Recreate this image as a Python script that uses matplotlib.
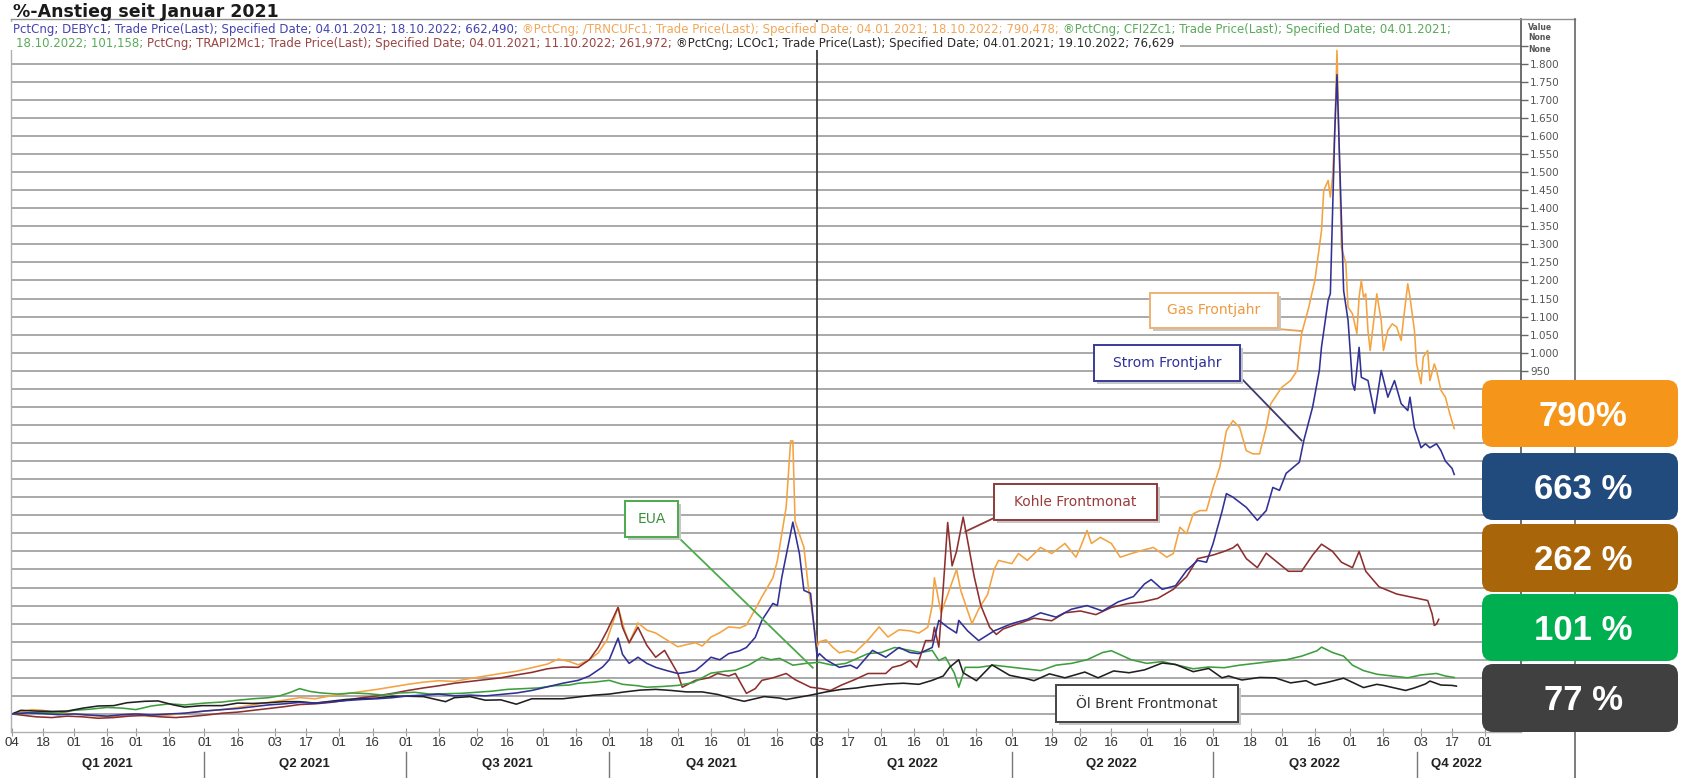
import matplotlib
matplotlib.use("Agg")
import matplotlib.pyplot as plt
import matplotlib.dates as mdates
import matplotlib.font_manager as fm
from matplotlib.patches import Rectangle, FancyBboxPatch
from matplotlib.lines import Line2D
from matplotlib.transforms import IdentityTransform, blended_transform_factory
import pandas as pd

# ---------------------------------------------------------------- data
GAS = [("2021-01-04", 0), ("2021-01-08", 6), ("2021-01-13", 12), ("2021-01-18", 10), ("2021-01-25", 3),
       ("2021-02-01", 0), ("2021-02-08", -4), ("2021-02-16", -8), ("2021-02-22", -6), ("2021-03-01", -3),
       ("2021-03-08", -7), ("2021-03-16", -3), ("2021-03-23", 2), ("2021-04-01", 8), ("2021-04-09", 12),
       ("2021-04-16", 18), ("2021-04-23", 25), ("2021-04-30", 32), ("2021-05-07", 38), ("2021-05-14", 45),
       ("2021-05-21", 42), ("2021-05-28", 50), ("2021-06-04", 56), ("2021-06-11", 62), ("2021-06-18", 68),
       ("2021-06-25", 75), ("2021-07-02", 82), ("2021-07-09", 88), ("2021-07-16", 92), ("2021-07-23", 90),
       ("2021-07-30", 98), ("2021-08-06", 105), ("2021-08-13", 112), ("2021-08-20", 118), ("2021-08-27", 128),
       ("2021-09-03", 138), ("2021-09-08", 152), ("2021-09-13", 145), ("2021-09-17", 136), ("2021-09-22", 150),
       ("2021-09-26", 169), ("2021-09-30", 205), ("2021-10-05", 296), ("2021-10-08", 230), ("2021-10-10", 197),
       ("2021-10-14", 252), ("2021-10-18", 232), ("2021-10-22", 224), ("2021-10-27", 205), ("2021-11-01", 186),
       ("2021-11-05", 192), ("2021-11-09", 197), ("2021-11-12", 188), ("2021-11-16", 213), ("2021-11-20", 225),
       ("2021-11-24", 241), ("2021-11-29", 238), ("2021-12-02", 246), ("2021-12-06", 290), ("2021-12-09", 324),
       ("2021-12-14", 377), ("2021-12-16", 424), ("2021-12-20", 573), ("2021-12-22", 756), ("2021-12-23", 756),
       ("2021-12-24", 534), ("2021-12-27", 479), ("2021-12-28", 462), ("2021-12-30", 351), ("2022-01-03", 186),
       ("2022-01-04", 200), ("2022-01-07", 205), ("2022-01-10", 185), ("2022-01-13", 169), ("2022-01-17", 175),
       ("2022-01-20", 169), ("2022-01-26", 205), ("2022-01-31", 241), ("2022-02-04", 213), ("2022-02-09", 233),
       ("2022-02-14", 230), ("2022-02-18", 224), ("2022-02-22", 240), ("2022-02-24", 300), ("2022-02-25", 377),
       ("2022-02-28", 280), ("2022-03-03", 330), ("2022-03-07", 400), ("2022-03-09", 340), ("2022-03-14", 250),
       ("2022-03-17", 290), ("2022-03-21", 330), ("2022-03-24", 400), ("2022-03-26", 425), ("2022-04-01", 416),
       ("2022-04-04", 444), ("2022-04-08", 425), ("2022-04-14", 461), ("2022-04-19", 444), ("2022-04-25", 472),
       ("2022-04-30", 434), ("2022-05-02", 461), ("2022-05-05", 508), ("2022-05-07", 472), ("2022-05-11", 489),
       ("2022-05-16", 472), ("2022-05-20", 434), ("2022-05-25", 444), ("2022-05-30", 453), ("2022-06-04", 461),
       ("2022-06-10", 434), ("2022-06-13", 444), ("2022-06-16", 517), ("2022-06-19", 499), ("2022-06-22", 554),
       ("2022-06-25", 563), ("2022-06-28", 563), ("2022-07-01", 627), ("2022-07-04", 683), ("2022-07-07", 784),
       ("2022-07-10", 812), ("2022-07-13", 793), ("2022-07-16", 729), ("2022-07-19", 720), ("2022-07-22", 720),
       ("2022-07-25", 793), ("2022-07-27", 858), ("2022-08-01", 904), ("2022-08-05", 923), ("2022-08-08", 951),
       ("2022-08-10", 1053), ("2022-08-13", 1120), ("2022-08-16", 1200), ("2022-08-19", 1338), ("2022-08-20", 1449),
       ("2022-08-22", 1477), ("2022-08-23", 1431), ("2022-08-24", 1486), ("2022-08-25", 1615), ("2022-08-26", 1837),
       ("2022-08-28", 1292), ("2022-08-30", 1247), ("2022-08-31", 1126), ("2022-09-02", 1108), ("2022-09-04", 1053),
       ("2022-09-05", 1154), ("2022-09-06", 1200), ("2022-09-07", 1154), ("2022-09-08", 1163), ("2022-09-09", 1062),
       ("2022-09-10", 1006), ("2022-09-12", 1108), ("2022-09-13", 1163), ("2022-09-15", 1089), ("2022-09-16", 1006),
       ("2022-09-18", 1062), ("2022-09-20", 1080), ("2022-09-22", 1071), ("2022-09-24", 1034), ("2022-09-25", 1089),
       ("2022-09-27", 1191), ("2022-09-28", 1154), ("2022-09-30", 1062), ("2022-10-01", 969), ("2022-10-03", 914),
       ("2022-10-04", 988), ("2022-10-06", 1006), ("2022-10-07", 923), ("2022-10-09", 969), ("2022-10-10", 951),
       ("2022-10-12", 896), ("2022-10-14", 877), ("2022-10-16", 831), ("2022-10-18", 790)]

STROM = [("2021-01-04", 0), ("2021-01-11", 3), ("2021-01-18", 1), ("2021-01-25", -2), ("2021-02-01", 0),
         ("2021-02-08", -3), ("2021-02-16", -6), ("2021-02-23", -2), ("2021-03-01", 0), ("2021-03-08", -3),
         ("2021-03-16", 0), ("2021-03-23", 2), ("2021-04-01", 8), ("2021-04-09", 12), ("2021-04-16", 15),
         ("2021-04-23", 20), ("2021-04-30", 25), ("2021-05-07", 28), ("2021-05-14", 32), ("2021-05-21", 30),
         ("2021-05-28", 33), ("2021-06-04", 37), ("2021-06-11", 40), ("2021-06-18", 42), ("2021-06-25", 45),
         ("2021-07-02", 50), ("2021-07-09", 52), ("2021-07-16", 55), ("2021-07-23", 50), ("2021-07-30", 52),
         ("2021-08-06", 50), ("2021-08-13", 54), ("2021-08-20", 58), ("2021-08-27", 65), ("2021-09-03", 75),
         ("2021-09-10", 85), ("2021-09-17", 93), ("2021-09-22", 105), ("2021-09-28", 130), ("2021-10-01", 150),
         ("2021-10-05", 210), ("2021-10-07", 165), ("2021-10-10", 140), ("2021-10-14", 157), ("2021-10-18", 140),
         ("2021-10-22", 129), ("2021-10-27", 120), ("2021-11-01", 112), ("2021-11-05", 115), ("2021-11-09", 120),
         ("2021-11-12", 135), ("2021-11-16", 157), ("2021-11-20", 150), ("2021-11-24", 167), ("2021-11-29", 175),
         ("2021-12-02", 184), ("2021-12-06", 212), ("2021-12-09", 259), ("2021-12-14", 306), ("2021-12-16", 300),
         ("2021-12-18", 378), ("2021-12-21", 470), ("2021-12-23", 531), ("2021-12-26", 443), ("2021-12-28", 342),
         ("2021-12-31", 334), ("2022-01-03", 157), ("2022-01-04", 167), ("2022-01-07", 150), ("2022-01-13", 129),
         ("2022-01-18", 135), ("2022-01-21", 126), ("2022-01-28", 176), ("2022-02-03", 157), ("2022-02-09", 184),
         ("2022-02-14", 170), ("2022-02-18", 167), ("2022-02-24", 184), ("2022-02-27", 259), ("2022-03-03", 240),
         ("2022-03-07", 224), ("2022-03-08", 259), ("2022-03-12", 230), ("2022-03-17", 203), ("2022-03-24", 230),
         ("2022-04-01", 250), ("2022-04-08", 262), ("2022-04-14", 280), ("2022-04-21", 268), ("2022-04-28", 290),
         ("2022-05-05", 300), ("2022-05-12", 285), ("2022-05-19", 310), ("2022-05-26", 325), ("2022-05-31", 360),
         ("2022-06-03", 372), ("2022-06-08", 345), ("2022-06-14", 355), ("2022-06-19", 397), ("2022-06-24", 425),
         ("2022-06-28", 420), ("2022-07-01", 472), ("2022-07-05", 560), ("2022-07-07", 610), ("2022-07-10", 600),
         ("2022-07-16", 572), ("2022-07-21", 536), ("2022-07-25", 563), ("2022-07-28", 627), ("2022-07-31", 619),
         ("2022-08-03", 666), ("2022-08-09", 697), ("2022-08-11", 757), ("2022-08-15", 850), ("2022-08-18", 950),
         ("2022-08-19", 1016), ("2022-08-22", 1145), ("2022-08-23", 1164), ("2022-08-25", 1615), ("2022-08-26", 1770),
         ("2022-08-29", 1172), ("2022-08-31", 1090), ("2022-09-02", 915), ("2022-09-03", 896), ("2022-09-05", 1015),
         ("2022-09-06", 932), ("2022-09-09", 923), ("2022-09-12", 832), ("2022-09-15", 951), ("2022-09-18", 877),
         ("2022-09-21", 923), ("2022-09-24", 859), ("2022-09-27", 840), ("2022-09-28", 877), ("2022-09-30", 793),
         ("2022-10-03", 737), ("2022-10-05", 748), ("2022-10-07", 737), ("2022-10-10", 748), ("2022-10-12", 729),
         ("2022-10-14", 700), ("2022-10-17", 680), ("2022-10-18", 663)]

KOHLE = [("2021-01-04", 0), ("2021-01-08", -3), ("2021-01-15", -8), ("2021-01-22", -10), ("2021-01-29", -6),
         ("2021-02-05", -8), ("2021-02-12", -12), ("2021-02-19", -10), ("2021-02-26", -6), ("2021-03-05", -4),
         ("2021-03-12", -8), ("2021-03-19", -10), ("2021-03-26", -7), ("2021-04-02", -3), ("2021-04-09", 2),
         ("2021-04-16", 5), ("2021-04-23", 10), ("2021-04-30", 15), ("2021-05-07", 20), ("2021-05-14", 26),
         ("2021-05-21", 28), ("2021-05-28", 32), ("2021-06-04", 38), ("2021-06-11", 45), ("2021-06-18", 50),
         ("2021-06-25", 57), ("2021-07-02", 65), ("2021-07-09", 72), ("2021-07-16", 78), ("2021-07-23", 85),
         ("2021-07-30", 90), ("2021-08-06", 95), ("2021-08-13", 100), ("2021-08-20", 108), ("2021-08-27", 115),
         ("2021-09-03", 125), ("2021-09-10", 130), ("2021-09-17", 129), ("2021-09-22", 150), ("2021-09-26", 184),
         ("2021-09-30", 230), ("2021-10-05", 295), ("2021-10-07", 240), ("2021-10-10", 197), ("2021-10-14", 240),
         ("2021-10-18", 190), ("2021-10-22", 157), ("2021-10-26", 176), ("2021-11-01", 112), ("2021-11-03", 74),
         ("2021-11-09", 93), ("2021-11-15", 100), ("2021-11-19", 112), ("2021-11-24", 105), ("2021-11-27", 112),
         ("2021-12-02", 57), ("2021-12-06", 70), ("2021-12-09", 93), ("2021-12-14", 100), ("2021-12-20", 112),
         ("2021-12-24", 95), ("2021-12-31", 74), ("2022-01-05", 70), ("2022-01-09", 65), ("2022-01-14", 80),
         ("2022-01-20", 95), ("2022-01-26", 112), ("2022-02-03", 112), ("2022-02-06", 129), ("2022-02-10", 135),
         ("2022-02-14", 148), ("2022-02-17", 129), ("2022-02-21", 203), ("2022-02-24", 203), ("2022-02-25", 240),
         ("2022-02-27", 185), ("2022-03-01", 350), ("2022-03-03", 530), ("2022-03-05", 410), ("2022-03-07", 450),
         ("2022-03-10", 545), ("2022-03-12", 480), ("2022-03-15", 380), ("2022-03-18", 300), ("2022-03-22", 240),
         ("2022-03-25", 220), ("2022-03-28", 235), ("2022-04-04", 250), ("2022-04-11", 265), ("2022-04-19", 258),
         ("2022-04-25", 280), ("2022-05-02", 285), ("2022-05-09", 275), ("2022-05-16", 295), ("2022-05-23", 305),
         ("2022-05-30", 310), ("2022-06-06", 320), ("2022-06-13", 345), ("2022-06-19", 380), ("2022-06-24", 430),
         ("2022-07-01", 440), ("2022-07-06", 450), ("2022-07-10", 460), ("2022-07-12", 470), ("2022-07-16", 430),
         ("2022-07-21", 405), ("2022-07-25", 445), ("2022-07-31", 415), ("2022-08-04", 395), ("2022-08-10", 395),
         ("2022-08-15", 440), ("2022-08-19", 470), ("2022-08-24", 450), ("2022-08-28", 420), ("2022-09-02", 405),
         ("2022-09-05", 450), ("2022-09-08", 395), ("2022-09-14", 352), ("2022-09-22", 332), ("2022-09-29", 323),
         ("2022-10-06", 314), ("2022-10-08", 277), ("2022-10-09", 245), ("2022-10-10", 249), ("2022-10-11", 262)]

EUA = [("2021-01-04", 0), ("2021-01-11", 3), ("2021-01-18", 5), ("2021-01-25", 2), ("2021-02-01", 10),
       ("2021-02-08", 13), ("2021-02-16", 18), ("2021-02-23", 16), ("2021-03-01", 12), ("2021-03-08", 22),
       ("2021-03-16", 28), ("2021-03-23", 25), ("2021-04-01", 30), ("2021-04-09", 33), ("2021-04-16", 38),
       ("2021-04-23", 42), ("2021-04-30", 45), ("2021-05-05", 50), ("2021-05-10", 60), ("2021-05-14", 70),
       ("2021-05-19", 62), ("2021-05-24", 58), ("2021-05-31", 55), ("2021-06-07", 58), ("2021-06-14", 56),
       ("2021-06-21", 52), ("2021-06-28", 58), ("2021-07-05", 60), ("2021-07-12", 55), ("2021-07-19", 56),
       ("2021-07-26", 57), ("2021-08-02", 60), ("2021-08-09", 63), ("2021-08-16", 68), ("2021-08-23", 70),
       ("2021-08-30", 72), ("2021-09-06", 78), ("2021-09-13", 80), ("2021-09-17", 85), ("2021-09-24", 88),
       ("2021-10-01", 93), ("2021-10-07", 82), ("2021-10-14", 78), ("2021-10-18", 74), ("2021-10-25", 76),
       ("2021-11-01", 79), ("2021-11-08", 87), ("2021-11-16", 113), ("2021-11-22", 118), ("2021-11-27", 121),
       ("2021-12-03", 135), ("2021-12-09", 157), ("2021-12-13", 150), ("2021-12-17", 154), ("2021-12-23", 135),
       ("2021-12-29", 140), ("2022-01-04", 143), ("2022-01-10", 135), ("2022-01-16", 140), ("2022-01-26", 167),
       ("2022-02-01", 170), ("2022-02-07", 184), ("2022-02-14", 176), ("2022-02-19", 170), ("2022-02-24", 176),
       ("2022-02-27", 148), ("2022-03-02", 157), ("2022-03-06", 113), ("2022-03-08", 74), ("2022-03-11", 129),
       ("2022-03-17", 129), ("2022-03-24", 135), ("2022-03-31", 130), ("2022-04-07", 125), ("2022-04-14", 120),
       ("2022-04-21", 135), ("2022-04-28", 140), ("2022-05-05", 150), ("2022-05-12", 170), ("2022-05-16", 175),
       ("2022-05-25", 150), ("2022-06-01", 140), ("2022-06-08", 145), ("2022-06-15", 135), ("2022-06-22", 125),
       ("2022-06-29", 130), ("2022-07-06", 128), ("2022-07-13", 135), ("2022-07-20", 140), ("2022-07-27", 145),
       ("2022-08-03", 150), ("2022-08-10", 160), ("2022-08-17", 175), ("2022-08-19", 185), ("2022-08-24", 170),
       ("2022-08-29", 160), ("2022-09-02", 135), ("2022-09-07", 120), ("2022-09-13", 110), ("2022-09-20", 105),
       ("2022-09-27", 100), ("2022-10-03", 108), ("2022-10-10", 112), ("2022-10-14", 105), ("2022-10-18", 101)]

BRENT = [("2021-01-04", 0), ("2021-01-08", 10), ("2021-01-15", 8), ("2021-01-22", 7), ("2021-01-29", 8),
         ("2021-02-05", 16), ("2021-02-12", 22), ("2021-02-19", 23), ("2021-02-25", 31), ("2021-03-05", 35),
         ("2021-03-11", 36), ("2021-03-18", 25), ("2021-03-23", 19), ("2021-03-31", 23), ("2021-04-09", 23),
         ("2021-04-16", 30), ("2021-04-23", 29), ("2021-04-30", 31), ("2021-05-07", 34), ("2021-05-14", 34),
         ("2021-05-21", 30), ("2021-05-28", 35), ("2021-06-04", 40), ("2021-06-11", 42), ("2021-06-18", 44),
         ("2021-06-25", 49), ("2021-07-02", 49), ("2021-07-09", 48), ("2021-07-19", 34), ("2021-07-23", 45),
         ("2021-07-30", 48), ("2021-08-06", 38), ("2021-08-13", 39), ("2021-08-20", 27), ("2021-08-27", 42),
         ("2021-09-03", 42), ("2021-09-10", 42), ("2021-09-17", 47), ("2021-09-24", 52), ("2021-10-01", 55),
         ("2021-10-08", 61), ("2021-10-15", 66), ("2021-10-22", 68), ("2021-10-29", 65), ("2021-11-05", 61),
         ("2021-11-12", 61), ("2021-11-19", 54), ("2021-11-26", 42), ("2021-12-01", 35), ("2021-12-10", 48),
         ("2021-12-17", 44), ("2021-12-20", 40), ("2021-12-31", 52), ("2022-01-07", 61), ("2022-01-14", 68),
         ("2022-01-21", 72), ("2022-01-26", 77), ("2022-02-04", 83), ("2022-02-11", 85), ("2022-02-18", 82),
         ("2022-02-24", 93), ("2022-03-01", 105), ("2022-03-04", 130), ("2022-03-08", 150), ("2022-03-10", 114),
         ("2022-03-16", 92), ("2022-03-23", 136), ("2022-03-31", 107), ("2022-04-08", 97), ("2022-04-11", 92),
         ("2022-04-18", 111), ("2022-04-25", 100), ("2022-05-04", 116), ("2022-05-10", 100), ("2022-05-17", 119),
         ("2022-05-24", 114), ("2022-05-31", 122), ("2022-06-08", 141), ("2022-06-14", 137), ("2022-06-22", 117),
         ("2022-06-29", 126), ("2022-07-05", 100), ("2022-07-08", 105), ("2022-07-14", 94), ("2022-07-22", 101),
         ("2022-07-29", 100), ("2022-08-05", 86), ("2022-08-12", 92), ("2022-08-16", 80), ("2022-08-22", 88),
         ("2022-08-29", 99), ("2022-09-07", 73), ("2022-09-13", 82), ("2022-09-16", 79), ("2022-09-26", 65),
         ("2022-09-30", 72), ("2022-10-05", 83), ("2022-10-07", 91), ("2022-10-12", 80), ("2022-10-17", 79),
         ("2022-10-19", 77)]

TICK_DATES = ["2021-01-04", "2021-01-18", "2021-02-01", "2021-02-16", "2021-03-01", "2021-03-16",
              "2021-04-01", "2021-04-16", "2021-05-03", "2021-05-17", "2021-06-01", "2021-06-16",
              "2021-07-01", "2021-07-16", "2021-08-02", "2021-08-16", "2021-09-01", "2021-09-16",
              "2021-10-01", "2021-10-18", "2021-11-01", "2021-11-16", "2021-12-01", "2021-12-16",
              "2022-01-03", "2022-01-17", "2022-02-01", "2022-02-16", "2022-03-01", "2022-03-16",
              "2022-04-01", "2022-04-19", "2022-05-02", "2022-05-16", "2022-06-01", "2022-06-16",
              "2022-07-01", "2022-07-18", "2022-08-01", "2022-08-16", "2022-09-01", "2022-09-16",
              "2022-10-03", "2022-10-17", "2022-11-01"]
QUARTER_STARTS = ["2021-04-01", "2021-07-01", "2021-10-01", "2022-04-01", "2022-07-01", "2022-10-01"]
YEAR_BREAK = "2022-01-03"
QUARTER_LABELS = ["Q1 2021", "Q2 2021", "Q3 2021", "Q4 2021", "Q1 2022", "Q2 2022", "Q3 2022", "Q4 2022"]
QUARTER_LABEL_DATES = ["2021-02-16", "2021-05-16", "2021-08-16", "2021-11-16",
                       "2022-02-15", "2022-05-16", "2022-08-16", "2022-10-19"]
Y_TICKS = list(range(0, 1851, 50))
Y_LABEL_MIN = 950   # labels below are covered by the value badges in the original

END_LABELS = ["790%", "663 %", "262 %", "101 %", "77 %"]
END_COLORS = ["#F5961A", "#214A7D", "#A8650A", "#00B050", "#404040"]

HEADER_1 = [("PctCng; DEBYc1; Trade Price(Last); Specified Date; 04.01.2021; 18.10.2022; 662,490;", "#4444B2"),
            ("\u00aePctCng; /TRNCUFc1; Trade Price(Last); Specified Date; 04.01.2021; 18.10.2022; 790,478;", "#F0A75A"),
            ("\u00aePctCng; CFI2Zc1; Trade Price(Last); Specified Date; 04.01.2021;", "#5AAA5A")]
HEADER_2 = [("18.10.2022; 101,158;", "#5AAA5A"),
            ("PctCng; TRAPI2Mc1; Trade Price(Last); Specified Date; 04.01.2021; 11.10.2022; 261,972;", "#9A4444"),
            ("\u00aePctCng; LCOc1; Trade Price(Last); Specified Date; 04.01.2021; 19.10.2022; 76,629", "#2A2A2A")]

# ---------------------------------------------------------------- styling
COL_GAS, COL_STROM, COL_KOHLE, COL_EUA, COL_BRENT = "#F4A340", "#303096", "#8E2F2F", "#3E9E3E", "#202020"

avail = {f.name for f in fm.fontManager.ttflist}
NARROW = "Liberation Sans Narrow" if "Liberation Sans Narrow" in avail else "Liberation Sans"
NARROW_FS = 11.5 if NARROW == "Liberation Sans Narrow" else 9.5
BADGE_FONT = "Liberation Sans" if "Liberation Sans" in avail else "DejaVu Sans"

W, H, DPI = 1682, 778, 100
fig = plt.figure(figsize=(W / DPI, H / DPI), dpi=DPI, facecolor="white")
L, R, T, B = 11, 1521, 18.6, 732
ax = fig.add_axes([L / W, 1 - B / H, (R - L) / W, (B - T) / H])
ax.set_facecolor("white")

PX_PER_DAY = 2.212
PX_PER_UNIT = 0.3612
x0 = mdates.date2num(pd.Timestamp("2021-01-04").to_pydatetime()) - (12 - L) / PX_PER_DAY
ax.set_xlim(x0, x0 + (R - L) / PX_PER_DAY)
YMIN = -50
ax.set_ylim(YMIN, YMIN + (B - T) / PX_PER_UNIT)


def dnum(s):
    return mdates.date2num(pd.Timestamp(s).to_pydatetime())


def plot_series(data, color, z):
    xs = [dnum(d) for d, _ in data]
    ys = [v for _, v in data]
    ax.plot(xs, ys, color=color, lw=1.15, zorder=z, solid_joinstyle="round")


plot_series(GAS, COL_GAS, 2.0)
plot_series(KOHLE, COL_KOHLE, 2.1)
plot_series(EUA, COL_EUA, 2.2)
plot_series(BRENT, COL_BRENT, 2.3)
plot_series(STROM, COL_STROM, 2.4)

# grid / axes
ax.set_yticks(Y_TICKS)
ax.set_yticklabels([f"{v:,}".replace(",", ".") if Y_LABEL_MIN <= v <= 1800 else "" for v in Y_TICKS])
for lbl, v in zip(ax.get_yticklabels(), Y_TICKS):
    lbl.set_family("DejaVu Sans")
    if v in (500, 1000, 1500):
        lbl.set_fontweight("bold")
ax.yaxis.tick_right()
ax.tick_params(axis="y", direction="out", length=5, color="#666666", labelsize=7.5,
               labelcolor="#555555", pad=1.5, width=1)
ax.grid(axis="y", color="#a2a2a2", lw=1.3, zorder=0.5)
ax.set_axisbelow(True)

ax.set_xticks([dnum(d) for d in TICK_DATES])
ax.set_xticklabels([pd.Timestamp(d).strftime("%d") for d in TICK_DATES])
for lbl in ax.get_xticklabels():
    lbl.set_family(NARROW)
ax.tick_params(axis="x", direction="inout", length=6, color="#999999", labelsize=NARROW_FS,
               labelcolor="#333333", pad=0.5)

for side, col, lw in [("right", "#555555", 1.2), ("left", "#b0b0b0", 1.0),
                      ("top", "#909090", 1.0), ("bottom", "#b0b0b0", 1.0)]:
    ax.spines[side].set_color(col)
    ax.spines[side].set_linewidth(lw)

blend = blended_transform_factory(ax.transData, ax.transAxes)
ax_h = B - T
yb = dnum(YEAR_BREAK)
ax.axvline(yb, color="#3a3a3a", lw=1.3, zorder=1.8)
ax.plot([yb, yb], [0, -(778 - B) / ax_h], transform=blend, clip_on=False, color="#3a3a3a", lw=1.3)
for q in QUARTER_STARTS:
    ax.plot([dnum(q)] * 2, [-(752 - B) / ax_h, -(778 - B) / ax_h], transform=blend,
            clip_on=False, color="#777777", lw=1.0)
for lab, d in zip(QUARTER_LABELS, QUARTER_LABEL_DATES):
    ax.text(dnum(d), -(764 - B) / ax_h, lab, transform=blend, ha="center", va="center",
            fontsize=NARROW_FS, fontweight="bold", family=NARROW, color="#222222")


# ---------------------------------------------------------------- figure-level helpers
def fx(x):
    return x / W


def fy(y):
    return 1 - y / H


def pline(xs, ys, **kw):
    fig.add_artist(Line2D(xs, [H - y for y in ys], transform=IdentityTransform(), **kw))


def prect(x0_, y0_, x1_, y1_, **kw):
    fig.add_artist(Rectangle((x0_, H - y1_), x1_ - x0_, y1_ - y0_, transform=IdentityTransform(), **kw))


# outer frame on the right
pline([R, 1575], [T, T], color="#909090", lw=1.0, zorder=1)
pline([1575, 1575], [T, H], color="#666666", lw=1.2, zorder=1)

# title
fig.text(fx(13), fy(12), "%-Anstieg seit Januar 2021", fontsize=12.5, fontweight="bold",
         family="DejaVu Sans", color="#1a1a1a", va="center", ha="left")

# value header on right axis
for yy, s in [(27, "Value"), (38, "None"), (49, "None")]:
    fig.text(fx(1528), fy(yy), s, fontsize=5.5, fontweight="bold", color="#555555",
             family="DejaVu Sans", va="center", ha="left")

# header (legend) text
renderer = fig.canvas.get_renderer()


def layout_header(fs):
    texts, ends = [], []
    for segs, yy in [(HEADER_1, 30), (HEADER_2, 43)]:
        x = 13 if segs is HEADER_1 else 16
        for s, c in segs:
            t = fig.text(fx(x), fy(yy), s, fontsize=fs, color=c, va="center", ha="left",
                         family="DejaVu Sans", zorder=6)
            w = t.get_window_extent(renderer).width
            texts.append(t)
            x += w + 4
        ends.append(x)
    return texts, ends


texts, ends = layout_header(7.0)
fs_h = 7.0 * (1456 - 13) / (ends[0] - 13)
for t in texts:
    t.remove()
texts, ends = layout_header(fs_h)
prect(10, 22, max(ends[0], 1460), 37, facecolor="white", edgecolor="none", zorder=5)
prect(10, 37, ends[1] + 2, 50, facecolor="white", edgecolor="none", zorder=5)

# annotation boxes
ANNOTS = [
    ("Gas Frontjahr", (1150, 293, 1278, 328), "#EE9A40", "#EFB272", (1278, 329), ("2022-08-10", 1060), "#E9A050"),
    ("Strom Frontjahr", (1094, 345, 1240, 381), "#30309A", "#3A3A9A", (1240, 377), ("2022-08-10", 757), "#3a3a70"),
    ("Kohle Frontmonat", (994, 484, 1157, 520), "#993B3B", "#8E3A3A", (994, 518), ("2022-03-11", 505), "#8E3A3A"),
    ("EUA", (625, 501, 678, 537), "#3A8F3A", "#4CAA4C", (678, 537), ("2022-01-01", 128), "#4CAA4C"),
    ("\u00d6l Brent Frontmonat", (1056, 685, 1238, 722), "#333333", "#444444", None, None, None),
]
for text, (bx0, by0, bx1, by1), tc, ec, start, target, lc in ANNOTS:
    if start is not None:
        ex, ey = ax.transData.transform((dnum(target[0]), target[1]))
        fig.add_artist(Line2D([start[0], ex], [H - start[1], ey], transform=IdentityTransform(),
                              color=lc, lw=1.3, zorder=2.5))
    prect(bx0 + 3, by0 + 3, bx1 + 3, by1 + 3, facecolor="#c6c6c6", edgecolor="none", zorder=2.7)
    prect(bx0, by0, bx1, by1, facecolor="white", edgecolor=ec, lw=1.4, zorder=3)
    fig.text(fx((bx0 + bx1) / 2), fy((by0 + by1) / 2), text, ha="center", va="center",
             fontsize=10, color=tc, family="DejaVu Sans", zorder=4)

# end-value badges
BADGE_Y = [(380, 447), (453, 520), (524, 592), (594, 661), (664, 732)]
BFS = 25
for (y0, y1), txt, col in zip(BADGE_Y, END_LABELS, END_COLORS):
    fig.add_artist(FancyBboxPatch((1482, H - y1), 196, y1 - y0,
                                  boxstyle="round,pad=0,rounding_size=11",
                                  transform=IdentityTransform(), facecolor=col,
                                  edgecolor="none", zorder=10))
    base = (y0 + y1) / 2 + 0.358 * BFS * DPI / 72
    fig.text(fx(1583), fy(base), txt, color="white", fontsize=BFS, fontweight="bold",
             family=BADGE_FONT, ha="center", va="baseline", zorder=11)

fig.savefig("out.png", dpi=DPI, facecolor="white")
